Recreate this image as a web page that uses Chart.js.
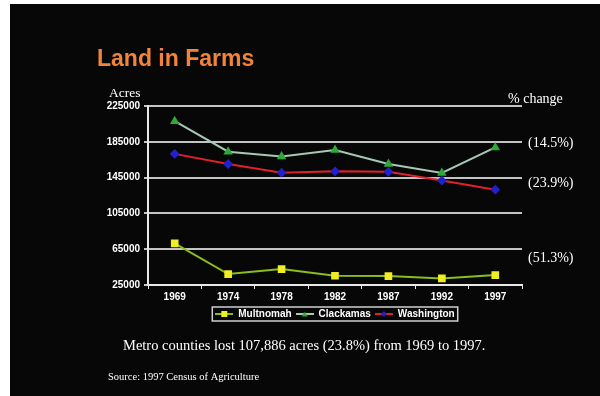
<!DOCTYPE html>
<html>
<head>
<meta charset="utf-8">
<script src="https://cdn.jsdelivr.net/npm/chart.js@4/dist/chart.umd.min.js"></script>
<style>
    html, body { margin: 0; padding: 0; background: #fff; }
    #wrap { position: relative; width: 600px; height: 396px; }
    canvas { position: absolute; left: 0; top: 0; }
</style>
</head>
<body>
<div id="wrap"><canvas id="farmChart" width="600" height="396"></canvas></div>
<script>
// Data
const years = ['1969', '1974', '1978', '1982', '1987', '1992', '1997'];
const multnomah = [71500, 37200, 42800, 35300, 35000, 32400, 36100];
const clackamas = [208000, 173900, 168700, 175800, 160200, 150200, 178700];
const washington = [171500, 160200, 150500, 152000, 151500, 141700, 131500];
const yTicks = [25000, 65000, 105000, 145000, 185000, 225000];
const pctLabels = ['(14.5%)', '(23.9%)', '(51.3%)'];

// small line + marker icon for the legend
function legendIcon(lineColor, markColor, shape) {
    const c = document.createElement('canvas');
    c.width = 18; c.height = 8;
    const g = c.getContext('2d');
    g.strokeStyle = lineColor;
    g.lineWidth = 2;
    g.beginPath(); g.moveTo(0, 4); g.lineTo(18, 4); g.stroke();
    g.fillStyle = markColor;
    if (shape === 'rect') {
        g.fillRect(6, 1, 6, 6);
    } else if (shape === 'triangle') {
        g.beginPath(); g.moveTo(9, 1.5); g.lineTo(12, 6.5); g.lineTo(6, 6.5); g.closePath(); g.fill();
    } else {
        g.beginPath(); g.moveTo(9, 1); g.lineTo(12, 4); g.lineTo(9, 7); g.lineTo(6, 4); g.closePath(); g.fill();
    }
    return c;
}

const icons = [
    legendIcon('#8cbc1e', '#eeee22', 'rect'),
    legendIcon('#a8c8b4', '#2fa83a', 'triangle'),
    legendIcon('#e0202c', '#2222cc', 'diamond')
];

// black slide background, white scan border
const backgroundPlugin = {
    id: 'slideBg',
    beforeDraw(chart) {
        const ctx = chart.ctx;
        ctx.save();
        ctx.fillStyle = '#ffffff';
        ctx.fillRect(0, 0, chart.width, chart.height);
        ctx.fillStyle = '#070707';
        ctx.fillRect(10, 4, chart.width - 10, chart.height - 4);
        ctx.restore();
    }
};

// titles and notes around the plot
const textPlugin = {
    id: 'slideText',
    afterDraw(chart) {
        const ctx = chart.ctx;
        ctx.save();
        ctx.textBaseline = 'alphabetic';
        ctx.textAlign = 'left';

        ctx.fillStyle = '#f2843a';
        ctx.font = 'bold 23px "Liberation Sans", Arial, sans-serif';
        ctx.fillText('Land in Farms', 97, 66);

        ctx.fillStyle = '#ffffff';
        ctx.font = '13.5px "Liberation Serif", "Times New Roman", serif';
        ctx.fillText('Acres', 109, 97);

        ctx.font = '14px "Liberation Serif", "Times New Roman", serif';
        ctx.fillText('% change', 508, 103);
        ctx.fillText(pctLabels[0], 528, 147);
        ctx.fillText(pctLabels[1], 528, 187);
        ctx.fillText(pctLabels[2], 528, 262);

        ctx.font = '14.5px "Liberation Serif", "Times New Roman", serif';
        ctx.fillText('Metro counties lost 107,886 acres (23.8%) from 1969 to 1997.', 123, 350);

        ctx.font = '10.5px "Liberation Serif", "Times New Roman", serif';
        ctx.fillText('Source: 1997 Census of Agriculture', 108, 380);

        // box around legend
        const lg = chart.legend;
        if (lg && lg.legendHitBoxes && lg.legendHitBoxes.length) {
            const boxes = lg.legendHitBoxes;
            const left = Math.min(...boxes.map(b => b.left)) - 3;
            const right = Math.max(...boxes.map(b => b.left + b.width)) + 3;
            const top = Math.min(...boxes.map(b => b.top)) - 2;
            const bottom = Math.max(...boxes.map(b => b.top + b.height)) + 2;
            ctx.strokeStyle = '#d0d0d0';
            ctx.lineWidth = 1.5;
            ctx.strokeRect(left, top, right - left, bottom - top);
        }
        ctx.restore();
    }
};

const ctx = document.getElementById('farmChart');
new Chart(ctx, {
    type: 'line',
    data: {
        labels: years,
        datasets: [
            {
                label: 'Multnomah',
                data: multnomah,
                borderColor: '#8cbc1e',
                backgroundColor: '#eeee22',
                pointBackgroundColor: '#eeee22',
                pointBorderColor: '#eeee22',
                pointStyle: 'rect',
                pointRadius: 4,
                borderWidth: 2
            },
            {
                label: 'Clackamas',
                data: clackamas,
                borderColor: '#a8c8b4',
                backgroundColor: '#2fa83a',
                pointBackgroundColor: '#2fa83a',
                pointBorderColor: '#2fa83a',
                pointStyle: 'triangle',
                pointRadius: 3.5,
                borderWidth: 2
            },
            {
                label: 'Washington',
                data: washington,
                borderColor: '#e0202c',
                backgroundColor: '#2222cc',
                pointBackgroundColor: '#2222cc',
                pointBorderColor: '#2222cc',
                pointStyle: 'rectRot',
                pointRadius: 3.5,
                borderWidth: 2
            }
        ]
    },
    options: {
        responsive: false,
        animation: false,
        layout: {
            padding: { left: 98, right: 78, top: 106, bottom: 67 }
        },
        plugins: {
            legend: {
                position: 'bottom',
                fullSize: false,
                labels: {
                    color: '#ffffff',
                    usePointStyle: true,
                    pointStyleWidth: 18,
                    padding: 4,
                    font: { size: 10, weight: 'bold', family: '"Liberation Sans", Arial, sans-serif' },
                    generateLabels(chart) {
                        return chart.data.datasets.map((ds, i) => ({
                            text: ds.label,
                            pointStyle: icons[i],
                            fillStyle: ds.backgroundColor,
                            strokeStyle: ds.borderColor,
                            lineWidth: 0,
                            fontColor: '#ffffff',
                            hidden: false,
                            datasetIndex: i
                        }));
                    }
                }
            },
            tooltip: { enabled: false }
        },
        scales: {
            x: {
                offset: true,
                afterFit(scale) { scale.height = 20; },
                border: { color: '#e8e8e8', width: 2 },
                grid: {
                    offset: true,
                    drawOnChartArea: false,
                    color: '#e8e8e8',
                    tickLength: 4
                },
                ticks: {
                    color: '#ffffff',
                    padding: 2,
                    font: { size: 10, weight: 'bold', family: '"Liberation Sans", Arial, sans-serif' }
                }
            },
            y: {
                min: yTicks[0],
                max: yTicks[yTicks.length - 1],
                afterFit(scale) { scale.width = 50; },
                afterBuildTicks(scale) { scale.ticks = yTicks.map(v => ({ value: v })); },
                border: { color: '#e8e8e8', width: 2 },
                grid: {
                    color: '#c4c4c4',
                    lineWidth: 2,
                    tickLength: 4
                },
                ticks: {
                    color: '#ffffff',
                    padding: 4,
                    callback: v => String(v),
                    font: { size: 10, weight: 'bold', family: '"Liberation Sans", Arial, sans-serif' }
                }
            }
        }
    },
    plugins: [backgroundPlugin, textPlugin]
});
</script>
</body>
</html>
